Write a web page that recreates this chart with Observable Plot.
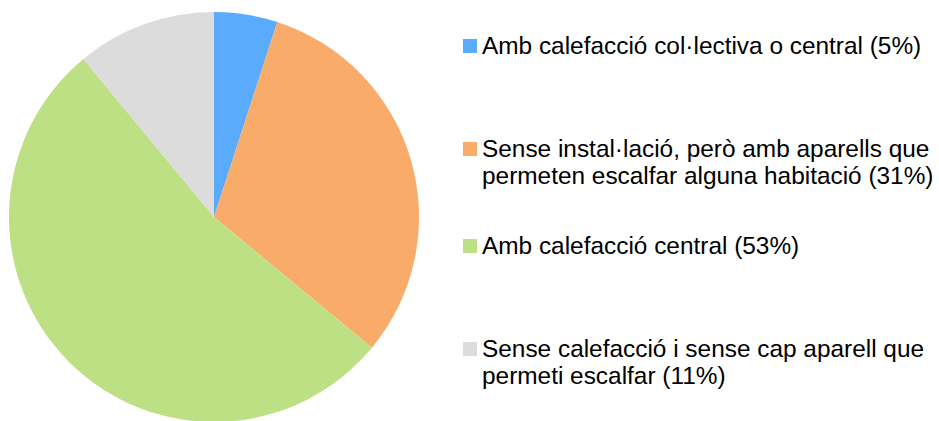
<!DOCTYPE html>
<html>
<head>
<meta charset="utf-8">
<script src="https://cdn.jsdelivr.net/npm/d3@7"></script>
<script src="https://cdn.jsdelivr.net/npm/@observablehq/plot@0.6"></script>
<style>
  body { margin: 0; background: #fff; }
  #wrap { position: relative; width: 939px; height: 421px; overflow: hidden; font-family: "Liberation Sans", Arial, sans-serif; }
  #chart { position: absolute; left: 0; top: 0; }
  .item { position: absolute; left: 463px; font-size: 24.4px; line-height: 27px; color: #000; display: flex; align-items: flex-start; white-space: nowrap; }
  .sw { width: 14px; height: 14px; margin-top: 7px; margin-right: 5px; flex: none; }
</style>
</head>
<body>
<div id="wrap"><div id="chart"></div></div>
<script>
const categories = [
  "Amb calefacció col·lectiva o central",
  "Sense instal·lació, però amb aparells que permeten escalfar alguna habitació",
  "Amb calefacció central",
  "Sense calefacció i sense cap aparell que permeti escalfar"
];
const legendLines = [
  ["Amb calefacció col·lectiva o central (5%)"],
  ["Sense instal·lació, però amb aparells que", "permeten escalfar alguna habitació (31%)"],
  ["Amb calefacció central (53%)"],
  ["Sense calefacció i sense cap aparell que", "permeti escalfar (11%)"]
];
const values = [5, 31, 53, 11];
const colors = ["#5aabfb", "#f9ac6a", "#bee085", "#dcdcdc"];
const legendTops = [32, 135, 232, 335];

const data = categories.map((c, i) => ({category: c, value: values[i]}));
const arcs = d3.pie().sort(null).value(d => d.value)(data);

const pieMark = (index, scales, vals, dims, context) => {
  const cx = scales.x(0), cy = scales.y(0);
  const r = Math.abs(scales.x(1) - scales.x(0));
  const arc = d3.arc().innerRadius(0).outerRadius(r);
  const g = d3.create("svg:g").attr("transform", `translate(${cx},${cy})`);
  g.selectAll("path").data(arcs).join("path")
    .attr("d", arc)
    .attr("fill", (d, i) => scales.color ? scales.color(d.data.category) : colors[i]);
  return g.node();
};

const plot = Plot.plot({
  width: 430, height: 421,
  margin: 0,
  x: {domain: [-1, 1], range: [9, 419], axis: null},
  y: {domain: [-1, 1], range: [422, 12], axis: null},
  color: {domain: categories, range: colors},
  marks: [
    Plot.dot(data, {x: () => 0, y: () => 0, fill: "category", r: 0}),
    pieMark
  ]
});
document.getElementById("chart").appendChild(plot);

const wrap = document.getElementById("wrap");
legendLines.forEach((lines, i) => {
  const div = document.createElement("div");
  div.className = "item";
  div.style.top = legendTops[i] + "px";
  const sw = document.createElement("div");
  sw.className = "sw";
  sw.style.background = colors[i];
  const t = document.createElement("div");
  t.innerHTML = lines.join("<br>");
  div.appendChild(sw); div.appendChild(t);
  wrap.appendChild(div);
});
</script>
</body>
</html>
